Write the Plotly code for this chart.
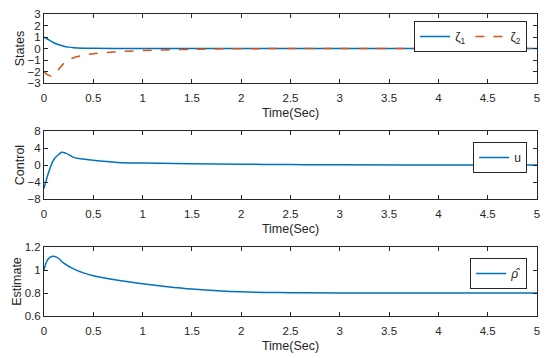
import plotly.graph_objects as go

t_states = [0, 0.03, 0.07, 0.1, 0.15, 0.2, 0.25, 0.3, 0.4, 0.5, 0.7, 1.0, 1.5, 2.0, 3.0, 4.0, 5.0]
zeta1 = [1.0, 0.85, 0.65, 0.5, 0.33, 0.2, 0.12, 0.07, 0.03, 0.015, 0.005, 0.0, 0.0, 0.0, 0.0, 0.0, 0.0]
zeta2 = [-2.0, -2.25, -2.4, -2.3, -1.8, -1.3, -1.0, -0.8, -0.6, -0.45, -0.3, -0.18, -0.07, -0.02, 0.0, 0.0, 0.0]

t_ctrl = [0, 0.05, 0.1, 0.15, 0.18, 0.22, 0.3, 0.4, 0.5, 0.75, 1.0, 1.5, 2.0, 2.5, 3.0, 4.0, 5.0]
u = [-5.5, -1.5, 1.3, 2.5, 3.0, 2.8, 1.8, 1.4, 1.1, 0.6, 0.45, 0.3, 0.18, 0.1, 0.05, 0.02, 0.0]

t_est = [0, 0.03, 0.06, 0.1, 0.15, 0.2, 0.3, 0.4, 0.5, 0.75, 1.0, 1.25, 1.5, 2.0, 2.5, 3.0, 4.0, 5.0]
rho = [1.0, 1.08, 1.11, 1.12, 1.1, 1.06, 1.01, 0.975, 0.95, 0.91, 0.88, 0.855, 0.835, 0.81, 0.803, 0.801, 0.8, 0.8]

x_ticks = [0, 0.5, 1, 1.5, 2, 2.5, 3, 3.5, 4, 4.5, 5]
y1_ticks = [-3, -2, -1, 0, 1, 2, 3]
y2_ticks = [-8, -4, 0, 4, 8]
y3_ticks = [0.6, 0.8, 1, 1.2]

BLUE = "#0072BD"
ORANGE = "#D95319"
AX = "#262626"
FONT = "Liberation Sans, Arial, sans-serif"

fig = go.Figure()
fig.add_trace(go.Scatter(x=t_states, y=zeta1, mode="lines", line=dict(color=BLUE, width=1.5),
                         name="ζ<sub>1</sub>", xaxis="x", yaxis="y", legend="legend", line_shape="spline"))
fig.add_trace(go.Scatter(x=t_states, y=zeta2, mode="lines", line=dict(color=ORANGE, width=1.5, dash="dash"),
                         name="ζ<sub>2</sub>", xaxis="x", yaxis="y", legend="legend", line_shape="spline"))
fig.add_trace(go.Scatter(x=t_ctrl, y=u, mode="lines", line=dict(color=BLUE, width=1.5),
                         name="u", xaxis="x2", yaxis="y2", legend="legend2", line_shape="spline"))
fig.add_trace(go.Scatter(x=t_est, y=rho, mode="lines", line=dict(color=BLUE, width=1.5),
                         name="<i>ρ̂</i>", xaxis="x3", yaxis="y3", legend="legend3", line_shape="spline"))

H = 358.0
def dom(top, bot):
    return [1 - bot / H, 1 - top / H]

def xax(anchor):
    return dict(domain=[0, 1], range=[0, 5], tickvals=x_ticks, ticktext=[str(v) for v in x_ticks],
                ticks="inside", ticklen=4, mirror="ticks", showline=True, linecolor=AX, linewidth=1,
                tickcolor=AX, showgrid=False, zeroline=False, anchor=anchor, automargin=False,
                ticklabelstandoff=4,
                tickfont=dict(size=11.5, color=AX, family=FONT),
                title=dict(text="Time(Sec)", font=dict(size=12.5, color=AX, family=FONT), standoff=5))

def yax(anchor, rng, ticks, d, title):
    return dict(domain=d, range=rng, tickvals=ticks, ticks="inside", ticklen=4, mirror="ticks",
                showline=True, linecolor=AX, linewidth=1, tickcolor=AX, showgrid=False, zeroline=False,
                anchor=anchor, automargin=False, tickfont=dict(size=11.5, color=AX, family=FONT),
                title=dict(text=title, font=dict(size=12.5, color=AX, family=FONT), standoff=0))

legbox = dict(bgcolor="white", bordercolor=AX, borderwidth=1, font=dict(size=12, color=AX, family=FONT),
              xanchor="right", yanchor="top", tracegroupgap=0, itemwidth=30)

fig.update_layout(
    width=550, height=358,
    margin=dict(l=44, r=13, t=0, b=0),
    paper_bgcolor="white", plot_bgcolor="white",
    font=dict(family=FONT, color=AX),
    xaxis=xax("y"), yaxis=yax("x", [-3, 3], y1_ticks, dom(14, 83), "States"),
    xaxis2=xax("y2"), yaxis2=yax("x2", [-8, 8], y2_ticks, dom(131, 199), "Control"),
    xaxis3=xax("y3"), yaxis3=yax("x3", [0.6, 1.2], y3_ticks, dom(247, 316), "Estimate"),
    legend=dict(legbox, x=0.98, y=1 - 21 / H, orientation="h"),
    legend2=dict(legbox, x=0.98, y=1 - 142 / H),
    legend3=dict(legbox, x=0.98, y=1 - 258 / H),
)

fig.write_html("out.html", config={"displayModeBar": False},
               post_script="document.body.style.margin='0px';document.body.style.overflow='hidden';")
